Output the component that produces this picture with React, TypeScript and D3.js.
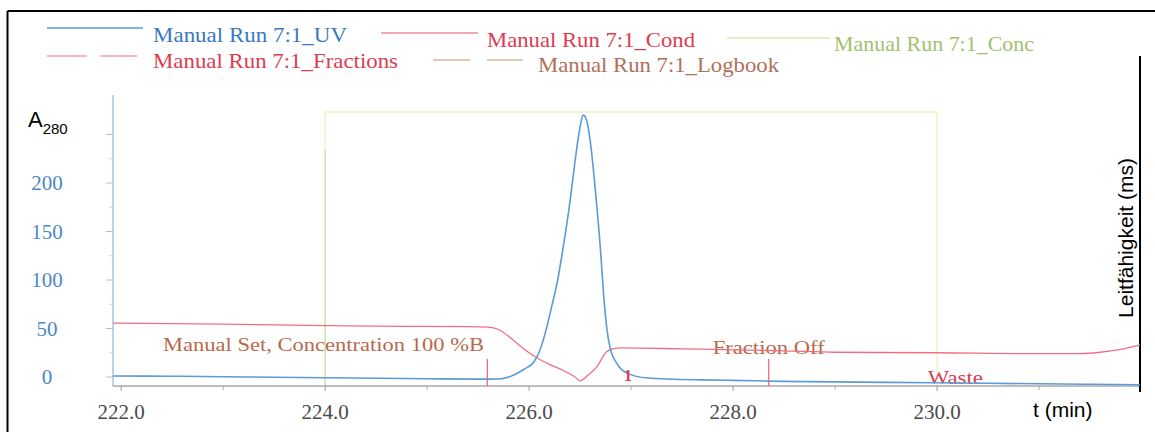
import React from "react";
import * as d3 from "d3";

// ---- data ----
const uvTime = [221.92, 222.5, 223, 223.5, 224, 224.5, 225, 225.5, 225.7, 225.85, 225.95, 226.05, 226.1, 226.16, 226.22, 226.28, 226.33, 226.4, 226.45, 226.5, 226.53, 226.56, 226.6, 226.65, 226.7, 226.73, 226.76, 226.79, 226.86, 226.96, 227.16, 227.7, 228, 228.5, 229, 229.5, 230, 230.5, 231, 231.5, 231.99];
const uvValue = [1, 0.8, 0.3, -0.2, -0.8, -1.3, -1.8, -2.2, -2, 2, 8, 16, 26, 46, 72, 100, 131, 180, 222, 258, 270, 266, 243, 192, 131, 86, 52, 32, 14, 4, -1, -3, -3.5, -4.5, -5, -5.5, -6, -6.5, -7, -7.5, -8];

const condTime = [221.92, 222.5, 223, 224, 224.8, 225.4, 225.6, 225.7, 225.8, 225.9, 226.0, 226.08, 226.2, 226.33, 226.45, 226.5, 226.58, 226.66, 226.76, 226.82, 226.9, 227.5, 228.0, 228.5, 229, 230, 231, 231.4, 231.6, 231.8, 231.99];
const condValue = [55.5, 55, 54.5, 53, 52.2, 52, 51.5, 49, 42, 33, 25, 19.6, 13, 7, 0, -4, 2, 10, 26, 29, 30, 29, 28, 27, 25.5, 25, 24, 24, 25.5, 28.5, 33];

const concTime = [224.0, 224.0, 230.0, 230.0];
const concValue = [0, 100, 100, 0];

const fractionMarks = [225.59, 228.35];
const fractionLabels = [{ t: 226.97, text: "1" }];

const logbookMarks = [224.0];
const logbookTexts = [
  { t: 222.41, text: "Manual Set, Concentration 100 %B" },
  { t: 227.8, text: "Fraction Off" },
];
const wasteText = { t: 229.91, text: "Waste" };

const xMajor = [222, 224, 226, 228, 230];
const xMinor = [223, 225, 227, 229, 231];
const yMajor = [0, 50, 100, 150, 200, 250];
const yLabels = [0, 50, 100, 150, 200];
const yMinor = [25, 75, 125, 175, 225];

const legendItems = [
  { label: "Manual Run 7:1_UV", color: "#3b78c0", line: "#5b9bd8", dash: "", x1: 47, x2: 143, ly: 28, tx: 153, ty: 42, tw: 194 },
  { label: "Manual Run 7:1_Cond", color: "#e03a52", line: "#f08a98", dash: "", x1: 381, x2: 478, ly: 33, tx: 487, ty: 47, tw: 208 },
  { label: "Manual Run 7:1_Conc", color: "#a4bf6c", line: "#dfe8b4", dash: "", x1: 727, x2: 830, ly: 38, tx: 834, ty: 51, tw: 200 },
  { label: "Manual Run 7:1_Fractions", color: "#dc3c50", line: "#f2a0a8", dash: "40,13", x1: 47, x2: 137, ly: 56, tx: 153, ty: 68, tw: 245 },
  { label: "Manual Run 7:1_Logbook", color: "#b0705a", line: "#d8b8a0", dash: "37,17", x1: 433, x2: 523, ly: 60, tx: 538, ty: 72, tw: 241 },
];

export default function App() {
  const W = 1155;
  const H = 432;
  const x = d3.scaleLinear().domain([221.92, 231.99]).range([113, 1140]);
  const y = d3.scaleLinear().domain([0, 200]).range([377, 183]);
  const yConc = d3.scaleLinear().domain([0, 100]).range([386, 112]);
  const axisY = 386;
  const axisTop = 95;

  const uvLine = d3
    .line<number>()
    .x((_, i) => x(uvTime[i]))
    .y((d) => y(d))
    .curve(d3.curveMonotoneX)(uvValue) as string;
  const condLine = d3
    .line<number>()
    .x((_, i) => x(condTime[i]))
    .y((d) => y(d))
    .curve(d3.curveMonotoneX)(condValue) as string;
  const concLine = d3
    .line<number>()
    .x((_, i) => x(concTime[i]))
    .y((d) => yConc(d))(concValue) as string;

  const serif = "'Liberation Serif', 'Times New Roman', serif";
  const sans = "'Liberation Sans', Arial, sans-serif";

  return (
    <svg
      width={W}
      height={H}
      style={{ position: "absolute", left: 0, top: 0, background: "#fff" }}
    >
      <rect x={0} y={0} width={W} height={H} fill="#fff" />
      {/* outer frame (top & left visible) */}
      <line x1={7.5} y1={11} x2={W} y2={11} stroke="#000" strokeWidth={2} />
      <line x1={7.5} y1={11} x2={7.5} y2={H} stroke="#000" strokeWidth={2} />

      {/* legend */}
      {legendItems.map((it) => (
        <g key={it.label}>
          <line x1={it.x1} x2={it.x2} y1={it.ly} y2={it.ly} stroke={it.line} strokeWidth={1.5} strokeDasharray={it.dash || undefined} />
          <text x={it.tx} y={it.ty} fill={it.color} fontFamily={serif} fontSize={21} textLength={it.tw} lengthAdjust="spacingAndGlyphs">
            {it.label}
          </text>
        </g>
      ))}

      {/* concentration (step) */}
      <path d={concLine} fill="none" stroke="#eef0c4" strokeWidth={1.3} />
      {logbookMarks.map((t) => (
        <line key={t} x1={x(t)} x2={x(t)} y1={150} y2={axisY} stroke="#cddcae" strokeWidth={1.2} />
      ))}

      {/* y axis */}
      <line x1={113} x2={113} y1={axisTop} y2={axisY} stroke="#a9c3e0" strokeWidth={1.5} />
      {yMajor.map((v) => (
        <line key={"ym" + v} x1={106} x2={113} y1={y(v)} y2={y(v)} stroke="#b4bccb" strokeWidth={1} />
      ))}
      {yMinor.map((v) => (
        <line key={"yn" + v} x1={109} x2={113} y1={y(v)} y2={y(v)} stroke="#d0d6e0" strokeWidth={1} />
      ))}
      {yLabels.map((v) => (
        <text key={"yl" + v} x={47} y={y(v)} dy="0.35em" textAnchor="middle" fill="#4a88c6" fontFamily={serif} fontSize={21}>
          {v}
        </text>
      ))}
      <text x={28} y={127} fill="#000" fontFamily={sans} fontSize={22}>
        A
        <tspan fontSize={15} dy={7}>280</tspan>
      </text>

      {/* x axis */}
      <line x1={113} x2={1140} y1={axisY} y2={axisY} stroke="#a8a8a8" strokeWidth={1.5} />
      {xMajor.map((t) => (
        <line key={"xm" + t} x1={x(t)} x2={x(t)} y1={axisY} y2={axisY + 5} stroke="#999" strokeWidth={1} />
      ))}
      {xMinor.map((t) => (
        <line key={"xn" + t} x1={x(t)} x2={x(t)} y1={axisY} y2={axisY + 4} stroke="#aaa" strokeWidth={1} />
      ))}
      {xMajor.map((t) => (
        <text key={"xl" + t} x={x(t)} y={419} textAnchor="middle" fill="#4a4a4a" fontFamily={serif} fontSize={21}>
          {t.toFixed(1)}
        </text>
      ))}
      <text x={1033} y={417} fill="#000" fontFamily={sans} fontSize={21}>
        t (min)
      </text>

      {/* right axis */}
      <line x1={1140} x2={1140} y1={56} y2={392} stroke="#000" strokeWidth={2} />
      <text
        transform={`translate(1133,238) rotate(-90)`}
        textAnchor="middle"
        fill="#000"
        fontFamily={sans}
        fontSize={21}
      >
        Leitfähigkeit (ms)
      </text>

      {/* logbook texts */}
      <text x={x(logbookTexts[0].t)} y={351} fill="#b86a4c" fontFamily={serif} fontSize={19} textLength={321} lengthAdjust="spacingAndGlyphs">
        {logbookTexts[0].text}
      </text>
      <text x={x(logbookTexts[1].t)} y={354} fill="#b86a4c" fontFamily={serif} fontSize={19} textLength={112} lengthAdjust="spacingAndGlyphs">
        {logbookTexts[1].text}
      </text>
      <text x={x(wasteText.t)} y={384} fill="#d4404e" fontFamily={serif} fontSize={19} textLength={55} lengthAdjust="spacingAndGlyphs">
        {wasteText.text}
      </text>

      {/* conductivity */}
      <path d={condLine} fill="none" stroke="#ee7080" strokeWidth={1.3} />
      {/* UV */}
      <path d={uvLine} fill="none" stroke="#5b9bd8" strokeWidth={1.6} />

      {/* fractions */}
      {fractionMarks.map((t) => (
        <line key={"f" + t} x1={x(t)} x2={x(t)} y1={359} y2={axisY} stroke="#e06070" strokeWidth={1.2} />
      ))}
      {fractionLabels.map((f) => (
        <text key={"fl" + f.t} x={x(f.t)} y={381} textAnchor="middle" fill="#d8404e" fontFamily={serif} fontSize={16} fontWeight="bold">
          {f.text}
        </text>
      ))}
    </svg>
  );
}
